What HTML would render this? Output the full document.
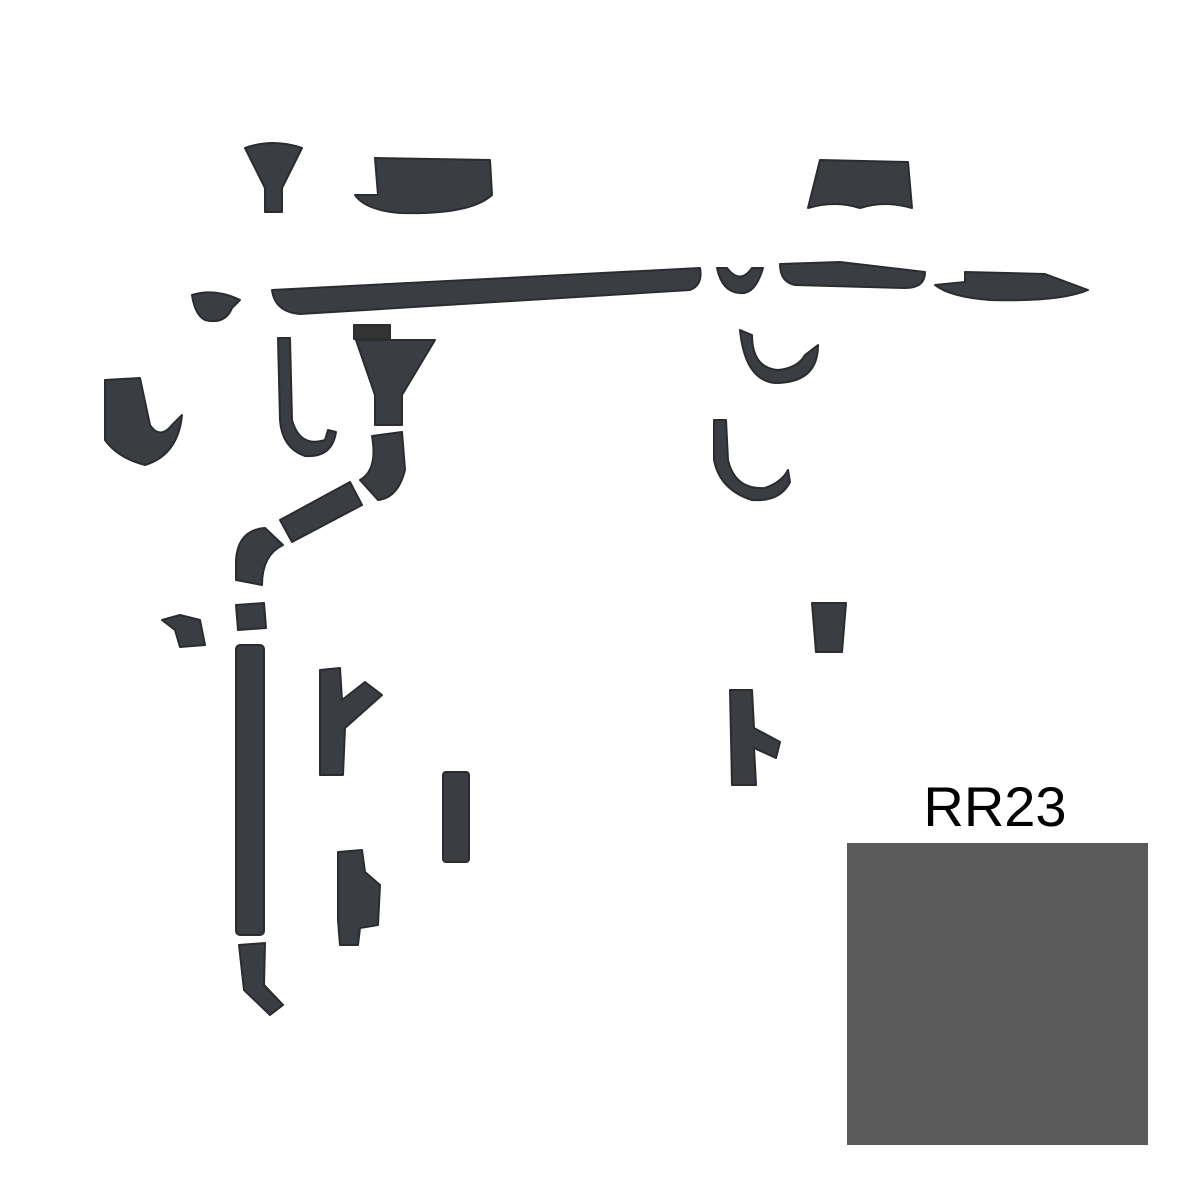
<!DOCTYPE html>
<html><head><meta charset="utf-8"><style>
html,body{margin:0;padding:0;background:#fff;width:1200px;height:1200px;overflow:hidden}
svg{display:block}
</style></head><body>
<svg width="1200" height="1200" viewBox="0 0 1200 1200" xmlns="http://www.w3.org/2000/svg">
<g fill="#3a3d41" stroke="#2a2c2f" stroke-width="2" stroke-linejoin="round">
<!-- funnel top -->
<path d="M245 148 Q273 138 302 148 L282 188 L282 212 L265 212 L265 188 Z"/>
<!-- gutter piece top -->
<path d="M375 158 L490 160 L492 195 Q470 215 400 213 Q365 210 355 195 L378 195 Z"/>
<!-- corner top right -->
<path d="M820 160 L908 162 L912 208 Q885 200 860 208 Q835 200 808 208 Z"/>
<!-- long gutter -->
<path d="M272 290 L700 268 Q703 285 690 290 L300 314 Q275 312 272 290 Z"/>
<!-- end cap -->
<path d="M192 295 Q215 288 240 300 L232 308 Q225 325 205 320 Q195 315 192 295 Z"/>
<!-- small connector -->
<path d="M717 268 L727 268 Q740 285 752 268 L763 268 Q755 295 740 293 Q722 292 717 268 Z"/>
<!-- corner piece -->
<path d="M780 264 L840 262 L925 272 Q925 288 905 288 L795 285 Q780 282 780 264 Z"/>
<!-- piece far right -->
<path d="M965 272 L1045 274 L1088 290 Q1060 302 990 300 Q950 297 935 285 L965 282 Z"/>
<!-- bracket left -->
<path d="M105 380 L140 378 L150 425 Q160 440 172 425 L182 415 Q178 455 145 465 Q118 458 105 440 Z"/>
<!-- hook -->
<path d="M278 338 L290 338 L292 420 Q300 448 325 440 L328 430 L336 432 Q332 458 305 456 Q282 448 280 420 Z"/>
<!-- outlet -->
<path d="M356 340 L435 340 L402 395 L402 425 L375 425 L375 395 Z"/>
<rect x="354" y="325" width="36" height="14" fill="#333"/>
<!-- right hooks -->
<path d="M740 330 L752 335 Q752 368 778 370 Q798 368 805 355 L818 345 Q818 383 775 383 Q745 380 740 330 Z"/>
<path d="M714 420 L726 420 L728 460 Q735 490 765 488 Q782 482 788 470 L790 482 Q780 502 752 500 Q720 490 714 460 Z"/>
<!-- elbows -->
<path d="M372 436 L402 432 L405 470 Q398 498 378 500 L360 480 Q378 470 372 436 Z"/>
<path d="M280 520 L350 482 L362 505 L292 542 Z"/>
<path d="M236 580 L236 560 Q238 530 265 528 L283 545 Q262 555 262 585 Z"/>
<!-- clamps -->
<path d="M162 620 L180 615 L200 620 L205 645 L180 647 L175 630 Z"/>
<path d="M236 605 L264 603 L266 628 L238 630 Z"/>
<!-- downpipe -->
<rect x="236" y="645" width="28" height="290" rx="4"/>
<!-- tee -->
<path d="M320 670 L340 668 L342 700 L365 682 L382 695 L345 728 L343 775 L320 775 Z"/>
<!-- pipe -->
<rect x="443" y="772" width="26" height="90" rx="3"/>
<!-- revision -->
<path d="M338 852 L362 850 L365 872 L380 885 L378 925 L360 928 L358 945 L340 945 L338 920 Z"/>
<!-- bottom elbow -->
<path d="M239 945 L265 943 L264 985 L283 1005 L270 1015 L244 990 Z"/>
<!-- cup -->
<path d="M812 603 L846 603 L842 652 L816 652 Z"/>
<!-- tee right -->
<path d="M730 690 L752 690 L754 728 L780 742 L776 758 L754 748 L756 785 L732 785 Z"/>
</g>
<text x="995" y="826" font-family="'Liberation Sans', sans-serif" font-size="56" text-anchor="middle" fill="#000">RR23</text>
<rect x="847" y="843" width="301" height="302" fill="#5a5a5a"/>
</svg>
</body></html>
